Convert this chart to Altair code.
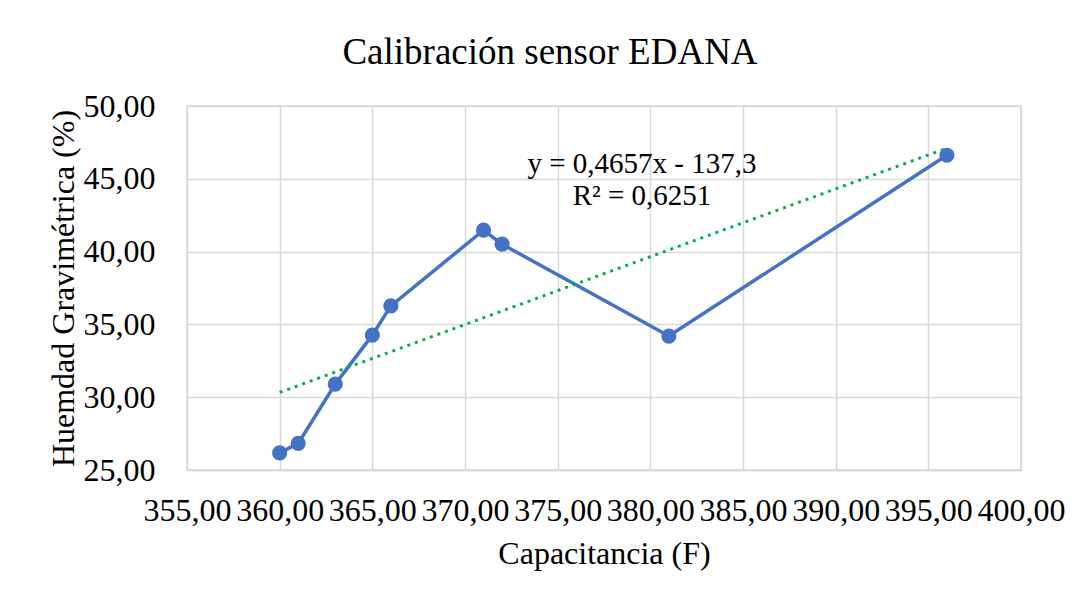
import altair as alt
import pandas as pd

# Data
capacitancia = [360, 361, 363, 365, 366, 371, 372, 381, 396]
humedad = [26.18, 26.83, 30.90, 34.26, 36.27, 41.47, 40.51, 34.20, 46.62]
equation_text = ["y = 0,4657x - 137,3", "R² = 0,6251"]

df = pd.DataFrame({"x": capacitancia, "y": humedad})

FONT = "Liberation Serif"
BLUE = "#4472C4"
GREEN = "#00B050"
GRID = "#D9D9D9"

fmt = "replace(format(datum.value, '.2f'), '.', ',')"

x_enc = alt.X(
    "x:Q",
    scale=alt.Scale(domain=[355, 400], nice=False, zero=False),
    axis=alt.Axis(
        title="Capacitancia (F)",
        values=[355, 360, 365, 370, 375, 380, 385, 390, 395, 400],
        labelExpr=fmt,
        labelFont=FONT, labelFontSize=32, labelColor="#000000",
        labelBaseline="alphabetic", labelPadding=50,
        labelFlush=False, labelOverlap=False, labelBound=False,
        ticks=False, tickSize=0,
        domainColor=GRID, domainWidth=1.5,
        gridColor=GRID, gridWidth=1.5,
        titleFont=FONT, titleFontSize=32, titleFontWeight="normal", titleColor="#000000",
        titleBaseline="alphabetic", titleX=417, titleY=93, titleAnchor="middle",
    ),
)
y_enc = alt.Y(
    "y:Q",
    scale=alt.Scale(domain=[25, 50], nice=False, zero=False),
    axis=alt.Axis(
        title="Huemdad Gravimétrica (%)",
        values=[25, 30, 35, 40, 45, 50],
        labelExpr=fmt,
        labelFont=FONT, labelFontSize=32, labelColor="#000000",
        labelBaseline="middle", labelAlign="right", labelPadding=32,
        labelFlush=False, labelOverlap=False, labelBound=False,
        ticks=False, tickSize=0,
        domain=False,
        gridColor=GRID, gridWidth=1.5,
        titleFont=FONT, titleFontSize=32, titleFontWeight="normal", titleColor="#000000",
        titleBaseline="alphabetic", titleX=-114, titleY=182, titleAngle=270, titleAnchor="middle",
    ),
)

base = alt.Chart(df)

line = base.mark_line(color=BLUE, strokeWidth=3.5).encode(x=x_enc, y=y_enc)
points = base.mark_circle(color=BLUE, size=230, opacity=1).encode(x="x:Q", y="y:Q")
trend = (
    base.transform_regression("x", "y", method="linear")
    .mark_line(color=GREEN, strokeWidth=3, strokeDash=[3, 5])
    .encode(x="x:Q", y="y:Q")
)
eq = alt.Chart(pd.DataFrame({"t": ["\n".join(equation_text)]})).mark_text(
    font=FONT, fontSize=29, color="#000000", align="center", baseline="alphabetic",
    lineBreak="\n", lineHeight=32,
).encode(x=alt.value(455), y=alt.value(67), text="t:N")

chart = (
    alt.layer(line, points, trend, eq)
    .properties(
        width=834,
        height=364,
        autosize=alt.AutoSizeParams(type="none"),
        padding={"left": 179, "top": 98, "right": 59, "bottom": 110},
        background="#FFFFFF",
        title=alt.TitleParams(
            "Calibración sensor EDANA",
            font=FONT, fontSize=37, fontWeight="normal", color="#000000",
            anchor="middle", baseline="alphabetic", offset=26, dx=-54, dy=37,
        ),
    )
    .configure_view(stroke=GRID, strokeWidth=1.5)
)

chart.save("out.html", embed_options={"renderer": "svg", "actions": False})
